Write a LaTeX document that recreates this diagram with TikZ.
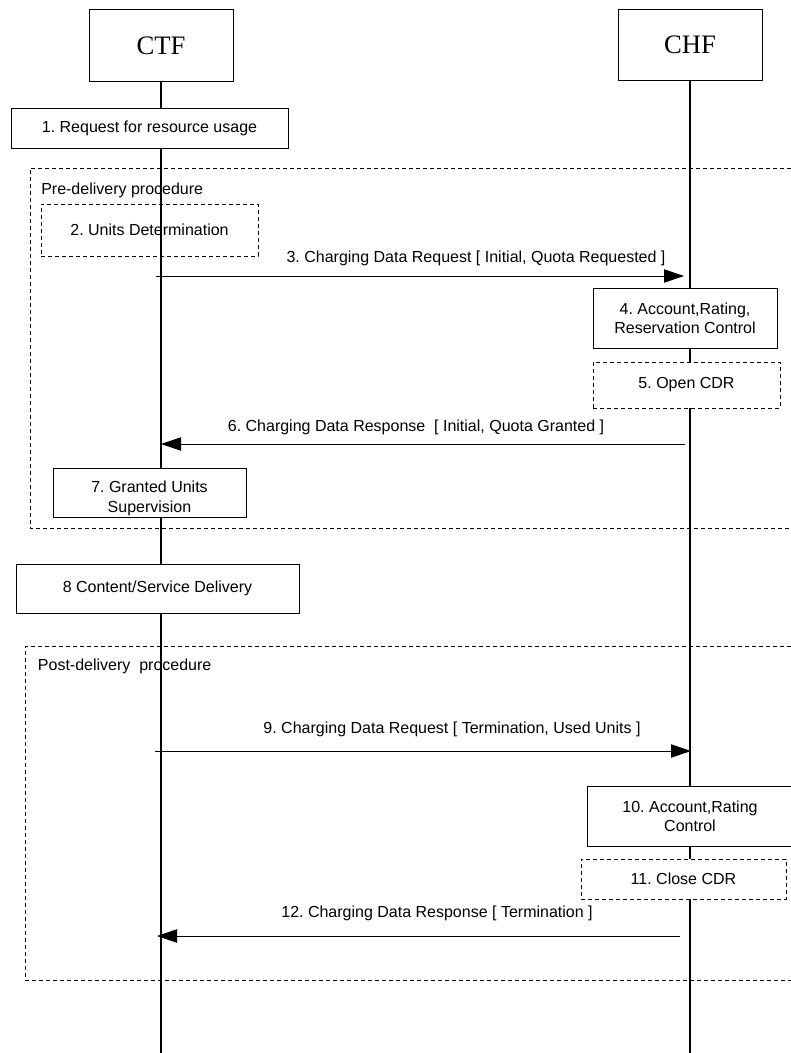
\documentclass[tikz,border=0pt]{standalone}
\usepackage{fontspec}
\setmainfont{Liberation Sans}
\newfontfamily\tnr{Liberation Serif}
\usetikzlibrary{arrows.meta}
\frenchspacing

\begin{document}
\begin{tikzpicture}[x=0.75pt,y=-0.75pt,line join=miter,>={Triangle[length=15pt,width=10pt]},
  entity/.style={draw,fill=white,line width=0.75pt,minimum width=108pt,minimum height=53.5pt,font=\tnr\fontsize{20}{24}\selectfont},
  stepbox/.style={draw,fill=white,line width=0.75pt,align=center,inner sep=0pt,font=\fontsize{12}{14.5}\selectfont},
  dashbox/.style={stepbox,dash pattern=on 3pt off 2.25pt},
  frame/.style={line width=0.75pt,dash pattern=on 3pt off 2.25pt},
  life/.style={line width=1.3pt},
  msg/.style={line width=0.75pt},
  msglabel/.style={inner sep=0pt,font=\fontsize{12}{14.5}\selectfont}]
\useasboundingbox (0,0) rectangle (791,1053);
\node[entity] (ctf) at (161,45.5) {CTF};
\node[entity] (chf) at (690,45) {CHF};
\coordinate (bottom) at (400,1053);
\draw[life] (ctf.south) -- (ctf.south |- bottom);
\draw[life] (chf.south) -- (chf.south |- bottom);
\node[stepbox,minimum width=207.75pt,minimum height=30pt] (req) at (149.5,128) {1. Request for resource usage};
\draw[frame] (791,168) -- (30,168) -- (30,528) -- (791,528);
\node[msglabel,anchor=west] (pre) at (41,190) {Pre-delivery procedure};
\node[dashbox,fill=none,minimum width=162.75pt,minimum height=39pt] (units) at (149.5,230) {2. Units Determination};
\coordinate (m3a) at (156,276);
\coordinate (m3b) at (684,276);
\draw[msg,->] (m3a) -- (m3b);
\node[msglabel] (l3) at (476,258) {3. Charging Data Request [ Initial, Quota Requested ]};
\node[stepbox,minimum width=138pt,minimum height=45pt] (rating) at (685,318) {4. Account,Rating,\\Reservation Control};
\node[dashbox,minimum width=140.25pt,minimum height=34.5pt] (opencdr) at (686.5,385) {5. Open CDR};
\coordinate (m6a) at (685,444);
\coordinate (m6b) at (161,444);
\draw[msg,->] (m6a) -- (m6b);
\node[msglabel] (l6) at (416,427) {6. Charging Data Response \ [ Initial, Quota Granted ]};
\node[stepbox,minimum width=144.75pt,minimum height=36.75pt] (granted) at (149.5,492.5) {\rule{0pt}{17.5pt}7. Granted Units\\Supervision};
\node[stepbox,minimum width=212.25pt,minimum height=36.75pt] (delivery) at (157.5,588.5) {8 Content/Service Delivery};
\draw[frame] (791,646) -- (25.7,646) -- (25.7,980) -- (791,980);
\node[msglabel,anchor=west] (post) at (37.7,666) {Post-delivery \ procedure};
\coordinate (m9a) at (155,751);
\coordinate (m9b) at (691,751);
\draw[msg,->] (m9a) -- (m9b);
\node[msglabel] (l9) at (452,729) {9. Charging Data Request [ Termination, Used Units ]};
\node[stepbox,minimum width=154.5pt,minimum height=45pt] (ratingend) at (690,816) {10. Account,Rating\\Control};
\node[dashbox,minimum width=153.75pt,minimum height=30pt] (closecdr) at (683.5,879) {11. Close CDR};
\coordinate (m12a) at (680,936);
\coordinate (m12b) at (157,936);
\draw[msg,->] (m12a) -- (m12b);
\node[msglabel] (l12) at (437,913) {12. Charging Data Response [ Termination ]};
\end{tikzpicture}
\end{document}
